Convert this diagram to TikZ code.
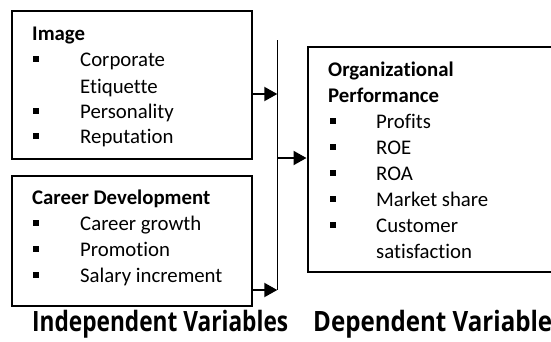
\documentclass[tikz,border=0pt]{standalone}
\usepackage{fontspec}
\setmainfont[Ligatures=NoCommon]{Carlito}
\newfontfamily\capfont{Open Sans}
\usetikzlibrary{arrows.meta}
\newsavebox\capboxA
\newsavebox\capboxB
\begin{document}
% caption font: narrowed so that each caption spans its column
\sbox\capboxA{\capfont\bfseries\fontsize{28}{32}\selectfont Independent Variables}
\sbox\capboxB{\capfont\bfseries\fontsize{28}{32}\selectfont Dependent Variable}
\pgfmathsetmacro\capsxA{256/\the\wd\capboxA}
\pgfmathsetmacro\capsxB{239/\the\wd\capboxB}
\begin{tikzpicture}[x=1pt,y=-1pt,
  box/.style={draw, line width=2pt, inner sep=0pt, anchor=north west},
  txt/.style={anchor=base west, inner sep=0pt, font=\fontsize{20.8}{25}\selectfont},
  head/.style={anchor=base west, inner sep=0pt, font=\fontsize{20.8}{25}\selectfont\bfseries},
  blt/.style={fill, minimum size=6pt, inner sep=0pt},
  lab/.style={anchor=base west, inner sep=0pt, font=\capfont\bfseries\fontsize{28}{32}\selectfont, transform shape},
  arr/.style={-{Triangle[length=13pt,width=14pt]}, line width=2pt},
  bus/.style={line width=1.6pt}]
\useasboundingbox (0,0) rectangle (551,341);
\clip (0,0) rectangle (551,341);

% independent variable: image
\node[box, minimum width=240pt, minimum height=147.7pt] (img) at (11,10) {};
\node[head] (imgT) at (32,40) {Image};
\foreach \t/\b/\n in {Corporate/66.7/1, Personality/118.3/2, Reputation/143.3/3} {
  \node[blt] (imgB\n) at (36,\b-7.5) {};
  \node[txt] (imgL\n) at (80,\b) {\t};
}
\node[txt] (imgL1b) at (80,93.3) {Etiquette};

% independent variable: career development
\node[box, minimum width=240pt, minimum height=130pt] (car) at (11,175) {};
\node[head] (carT) at (32,204) {Career Development};
\foreach \t/\b/\n in {Career growth/230/1, Promotion/256/2, Salary increment/282.3/3} {
  \node[blt] (carB\n) at (36,\b-7.5) {};
  \node[txt] (carL\n) at (80,\b) {\t};
}

% dependent variable: organizational performance
\node[box, minimum width=260pt, minimum height=225pt] (org) at (306.5,45.7) {};
\node[head] (orgT1) at (328,76.7) {Organizational};
\node[head] (orgT2) at (328,102) {Performance};
\foreach \t/\b/\n in {Profits/128/1, ROE/154/2, ROA/180.7/3, Market share/206.7/4, Customer/232/5} {
  \node[blt] (orgB\n) at (332.5,\b-7.5) {};
  \node[txt] (orgL\n) at (376,\b) {\t};
}
\node[txt] (orgL5b) at (376,258) {satisfaction};

% collecting line and arrows
\coordinate (busTop) at (277.3,40);
\coordinate (busBot) at (277.3,290);
\draw[bus] (busTop) -- (busBot);
\draw[arr] (img.east |- 0,94) -- (busTop |- 0,94);
\draw[arr] (car.east |- 0,290) -- (busBot);
\draw[arr] (busTop |- 0,158) -- (org.west |- 0,158);

% column captions
\node[lab, xscale=\capsxA] (indep) at (32,331) {Independent Variables};
\node[lab, xscale=\capsxB] (dep) at (313,331) {Dependent Variable};
\end{tikzpicture}
\end{document}
